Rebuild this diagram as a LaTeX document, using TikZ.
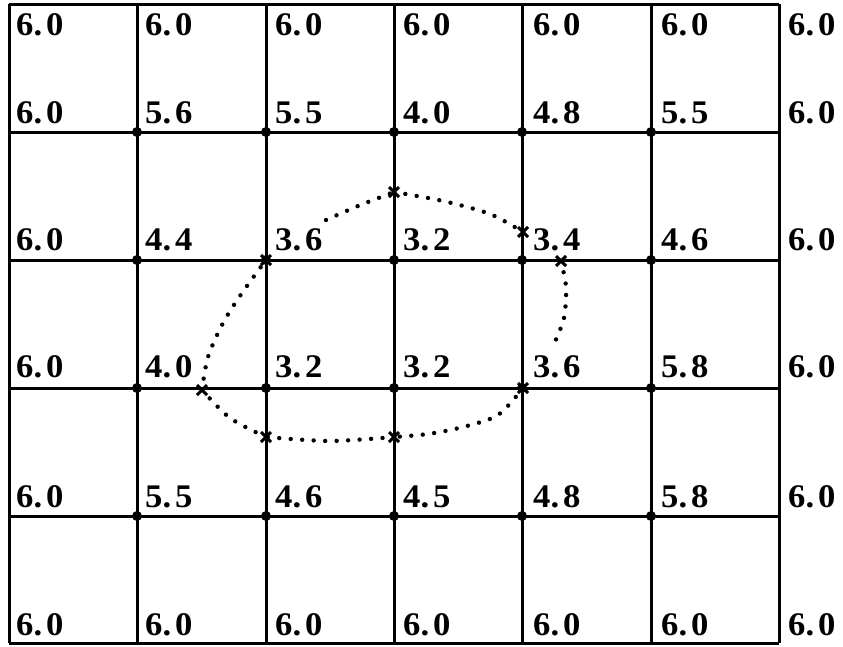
\documentclass[tikz,border=0pt]{standalone}
\usepackage{fontspec}
\newfontfamily\labfont{Liberation Serif}[UprightFont=*-Bold, FakeStretch=1.05]
\begin{document}
\begin{tikzpicture}[x=1pt,y=-1pt,
  gridline/.style={line width=3pt},
  lab/.style={anchor=base west, inner sep=0pt, font=\labfont\fontsize{33}{35}\selectfont},
  curve/.style={line width=4.4pt, line cap=round, dash pattern=on 0pt off 11.5pt},
  ptdot/.style={circle, fill, inner sep=0pt, minimum size=10pt},
  xmark/.style={line width=3pt}]
\useasboundingbox (0,0) rectangle (843,646);
% grid
\foreach \x in {9,137,266,394,522,651,779}
  \draw[gridline] (\x,4) -- (\x,643);
\foreach \y in {4,132,260,388,516,643}
  \draw[gridline] (9,\y) -- (779,\y);
% dots at interior intersections
\foreach \x [count=\i] in {137,266,394,522,651}
  \foreach \y [count=\j] in {132,260,388,516}
    \node[ptdot] (d\i\j) at (\x,\y) {};
% labels
\def\cols{16,145,275,403,533,661,788}
\foreach \a/\b [count=\i] in {6/0,6/0,6/0,6/0,6/0,6/0,6/0}
  {\pgfmathparse{{\cols}[\i-1]}\node[lab] (la\i) at (\pgfmathresult,35) {\a.\kern4pt\b};}
\foreach \a/\b [count=\i] in {6/0,5/6,5/5,4/0,4/8,5/5,6/0}
  {\pgfmathparse{{\cols}[\i-1]}\node[lab] (lb\i) at (\pgfmathresult,123) {\a.\kern4pt\b};}
\foreach \a/\b [count=\i] in {6/0,4/4,3/6,3/2,3/4,4/6,6/0}
  {\pgfmathparse{{\cols}[\i-1]}\node[lab] (lc\i) at (\pgfmathresult,250) {\a.\kern4pt\b};}
\foreach \a/\b [count=\i] in {6/0,4/0,3/2,3/2,3/6,5/8,6/0}
  {\pgfmathparse{{\cols}[\i-1]}\node[lab] (ld\i) at (\pgfmathresult,377) {\a.\kern4pt\b};}
\foreach \a/\b [count=\i] in {6/0,5/5,4/6,4/5,4/8,5/8,6/0}
  {\pgfmathparse{{\cols}[\i-1]}\node[lab] (le\i) at (\pgfmathresult,507) {\a.\kern4pt\b};}
\foreach \a/\b [count=\i] in {6/0,6/0,6/0,6/0,6/0,6/0,6/0}
  {\pgfmathparse{{\cols}[\i-1]}\node[lab] (lf\i) at (\pgfmathresult,635) {\a.\kern4pt\b};}
% contour points
\coordinate (pa) at (266,260);
\coordinate (pb) at (394,192);
\coordinate (pc) at (523,232);
\coordinate (pd) at (561,261);
\coordinate (pe) at (523,388);
\coordinate (pf) at (394,437);
\coordinate (pg) at (266,437);
\coordinate (ph) at (202,390);
\coordinate (s1) at (326,220);
\coordinate (s2) at (554,344);
% dotted contour
\draw[curve] plot[smooth] coordinates {(s1) (358,206) (pb)};
\draw[curve] plot[smooth] coordinates {(pb) (443,201) (490,214) (pc)};
\draw[curve] plot[smooth] coordinates {(pd) (566,287) (564,318) (s2)};
\draw[curve] plot[smooth] coordinates {(pe) (498,415) (463,427) (428,434) (pf)};
\draw[curve] plot[smooth] coordinates {(pf) (330,441) (pg)};
\draw[curve] plot[smooth] coordinates {(pg) (230,418) (ph)};
\draw[curve] plot[smooth] coordinates {(ph) (208,357) (223,323) (242,293) (pa)};
% crosses
\foreach \p in {pa,pb,pc,pd,pe,pf,pg,ph}
  \draw[xmark] ([shift={(-5,-5)}]\p) -- ([shift={(5,5)}]\p)
               ([shift={(-5,5)}]\p) -- ([shift={(5,-5)}]\p);
\end{tikzpicture}
\end{document}
